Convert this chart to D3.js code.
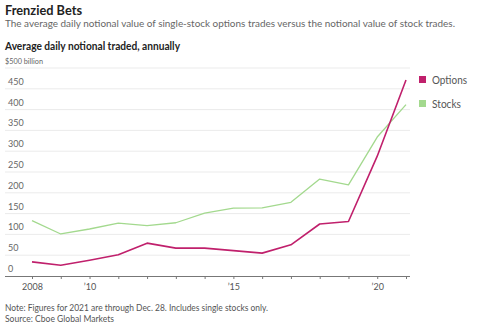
<!DOCTYPE html>
<html><head><meta charset="utf-8">
<script src="https://cdn.jsdelivr.net/npm/d3@7"></script>
<style>body{margin:0;background:#fff;}svg{display:block;font-family:Lato,"Open Sans",sans-serif;}</style>
</head><body><svg id="c" width="477" height="328"></svg>
<script>
const years = [2008,2009,2010,2011,2012,2013,2014,2015,2016,2017,2018,2019,2020,2021];
const options = [34,26,38,51,79,67,67,61,55,75,125,131,288,471];
const stocks = [133,101,113,127,121,128,151,163,164,177,233,219,334,412];
const yTicks = [0,50,100,150,200,250,300,350,400,450,500];
const xLabels = {2008:"2008",2010:"\u201910",2015:"\u201915",2020:"\u201920"};
const seriesNames = ["Options","Stocks"];
const colors = ["#c0206c","#a3d98e"];

const svg = d3.select("#c");
const x = d3.scaleLinear().domain([2008,2021]).range([32,406]);
const y = d3.scaleLinear().domain([0,500]).range([276,68]);

function fit(sel, w){ sel.attr("textLength",w).attr("lengthAdjust","spacingAndGlyphs"); return sel; }

fit(svg.append("text").attr("x",5).attr("y",14.5).attr("font-size",12.5).attr("font-weight","bold").attr("fill","#222").text("Frenzied Bets"),77);
fit(svg.append("text").attr("x",5).attr("y",26.5).attr("font-size",10).attr("fill","#666").text("The average daily notional value of single-stock options trades versus the notional value of stock trades."),450);
fit(svg.append("text").attr("x",5).attr("y",50).attr("font-size",10.5).attr("font-weight","bold").attr("fill","#222").text("Average daily notional traded, annually"),175);

const g = svg.append("g");
yTicks.forEach(t=>{
  if(t>0) g.append("line").attr("x1",5).attr("x2",410).attr("y1",y(t)).attr("y2",y(t)).attr("stroke","#ebebeb").attr("stroke-width",1);
  const tx = g.append("text").attr("x", t===500?5:8).attr("y", y(t)-4).attr("font-size", t===500?7.5:9).attr("fill","#666")
   .text(t===500?"$500 billion":t);
  if(t===500) fit(tx,38);
});

const xAxis = d3.axisBottom(x).tickValues(years).tickSize(3).tickFormat(d=>xLabels[d]||"");
const ax = svg.append("g").attr("transform",`translate(0,${y(0)})`).call(xAxis);
ax.select(".domain").attr("d","M5,0.5H410").attr("stroke","#777");
ax.selectAll(".tick line").attr("stroke","#777");
ax.selectAll(".tick text").attr("font-size",9).attr("fill","#555").attr("dy","0.9em").attr("font-family","Lato,sans-serif");

const line = d3.line().x((d,i)=>x(years[i])).y(d=>y(d));
[stocks,options].forEach((s,k)=>{
  const idx = k===0?1:0;
  svg.append("path").attr("d",line(s)).attr("fill","none").attr("stroke",colors[idx]).attr("stroke-width",idx===0?1.6:1.3).attr("stroke-linejoin","round");
});

seriesNames.forEach((n,i)=>{
  const yy = 80 + i*24;
  svg.append("rect").attr("x",419).attr("y",yy-4).attr("width",7).attr("height",7).attr("fill",colors[i]);
  fit(svg.append("text").attr("x",432).attr("y",yy+3.5).attr("font-size",10.5).attr("fill","#555").text(n), i===0?35:29);
});

fit(svg.append("text").attr("x",5).attr("y",311).attr("font-size",9.5).attr("fill","#555").text("Note: Figures for 2021 are through Dec. 28. Includes single stocks only."),263);
fit(svg.append("text").attr("x",5).attr("y",322).attr("font-size",9.5).attr("fill","#555").text("Source: Cboe Global Markets"),109);
</script></body></html>
